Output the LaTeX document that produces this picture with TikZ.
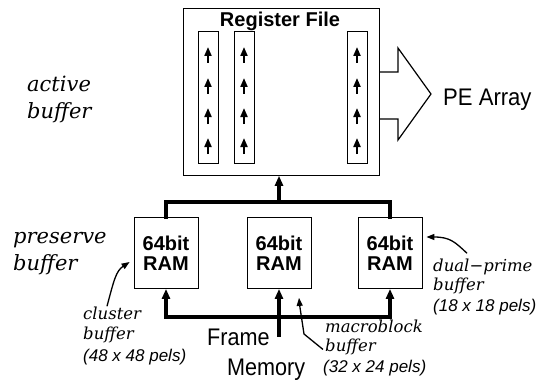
\documentclass[tikz,border=0pt]{standalone}
\usepackage{fontspec}
\usetikzlibrary{positioning}
\usetikzlibrary{arrows.meta,calc}
\newfontfamily\notefont{DejaVu Serif}
\newfontfamily\blockfont{Liberation Sans}

\tikzset{
    box/.style={draw, line width=0.8pt, inner sep=0pt},
    ram/.style={box, minimum width=64pt, minimum height=71pt, align=center, font=\blockfont\bfseries\fontsize{20}{20}\selectfont},
    column/.style={box, minimum width=20pt, minimum height=132pt},
    bus/.style={line width=4pt, line cap=rect},
    bustip/.style={-{Triangle[length=10pt,width=8pt]}},
    colarrow/.style={line width=2pt, -{Triangle[length=9pt,width=7pt]}},
    notearrow/.style={line width=1.3pt, -{Triangle[length=8pt,width=6pt]}},
    side/.style={anchor=base west, inner sep=0pt, font=\notefont\itshape\fontsize{21}{26}\selectfont},
    note/.style={anchor=base west, inner sep=0pt, font=\notefont\itshape\fontsize{16.5}{20}\selectfont},
    size/.style={anchor=base west, inner sep=0pt, font=\blockfont\itshape\fontsize{17}{20}\selectfont},
    plain/.style={anchor=base west, inner sep=0pt, font=\blockfont\fontsize{24}{24}\selectfont},
}

\begin{document}
\begin{tikzpicture}[x=1pt, y=-1pt]
    \useasboundingbox (0,0) rectangle (548,385);
    % register file
    \node[box, minimum width=196pt, minimum height=167pt, anchor=north west] (regfile) at (183,8) {};
    \node[anchor=base, inner sep=0pt, font=\blockfont\bfseries\fontsize{20}{20}\selectfont] (regtitle) at (280,27) {Register File};
    \foreach \cx [count=\i] in {208,244,357} {
        \node[column] (col\i) at (\cx,97) {};
        \foreach \ay in {55,86,116,146}
            \draw[colarrow] (\cx,\ay+8) -- (\cx,\ay-8);
    }
    % output to the PE array
    \draw[line width=1.2pt] (379,72) -- (398,72) -- (398,48) -- (431,94) -- (398,140) -- (398,119) -- (379,119);
    \node[plain] (pe) at (443,106) {\scalebox{0.92}[1]{PE Array}};

    % preserve buffer
    \foreach \rx [count=\i] in {166,279,390}
        \node[ram] (ram\i) at (\rx,253) {64bit\\RAM};
    \coordinate (topbus) at (279,202);
    \coordinate (botbus) at (279,317);
    \coordinate (fm) at (279,335);
    \draw[bus] (ram1.north) |- (topbus) -| (ram3.north);
    \draw[bus, bustip] (topbus) -- (regfile.south -| topbus);
    \draw[bus] (ram1.south |- botbus) -- (ram3.south |- botbus);
    \foreach \i in {1,3}
        \draw[bus, bustip] (ram\i.south |- botbus) -- (ram\i.south);
    \draw[bus, bustip] (fm) -- (ram2.south);
    \node[plain] (frame) at (207,345) {\scalebox{0.9}[1]{Frame}};
    \node[plain] (memory) at (227,375) {\scalebox{0.9}[1]{Memory}};

    % side labels
    \node[side] (active1) at (27,92) {active};
    \node[side] (active2) at (27,118) {buffer};
    \node[side] (preserve1) at (13,243) {preserve};
    \node[side] (preserve2) at (13,270) {buffer};

    % buffer notes
    \node[note] (cluster1) at (83,319) {cluster};
    \node[note] (cluster2) at (83,339) {buffer};
    \node[size] (cluster3) at (83,361) {(48 x 48 pels)};
    \draw[notearrow] ($(cluster1.north west)+(24,0)$) .. controls (114,280) and (116,271) .. ($(ram1.west)+(-4,9)$);

    \node[note] (dual1) at (433,271) {dual−prime};
    \node[note] (dual2) at (433,290) {buffer};
    \node[size] (dual3) at (433,311) {(18 x 18 pels)};
    \draw[notearrow] ($(dual1.north west)+(34,-5)$) .. controls (455,242) and (450,237) .. ($(ram3.east)+(4,-16)$);

    \node[note] (macro1) at (325,332) {macroblock};
    \node[note] (macro2) at (325,351) {buffer};
    \node[size] (macro3) at (323,372) {(32 x 24 pels)};
    \draw[notearrow] ($(macro2.west)+(-2,3)$) -- (304,334) .. controls (301,320) .. ($(ram2.south)+(20,9)$);
\end{tikzpicture}
\end{document}
